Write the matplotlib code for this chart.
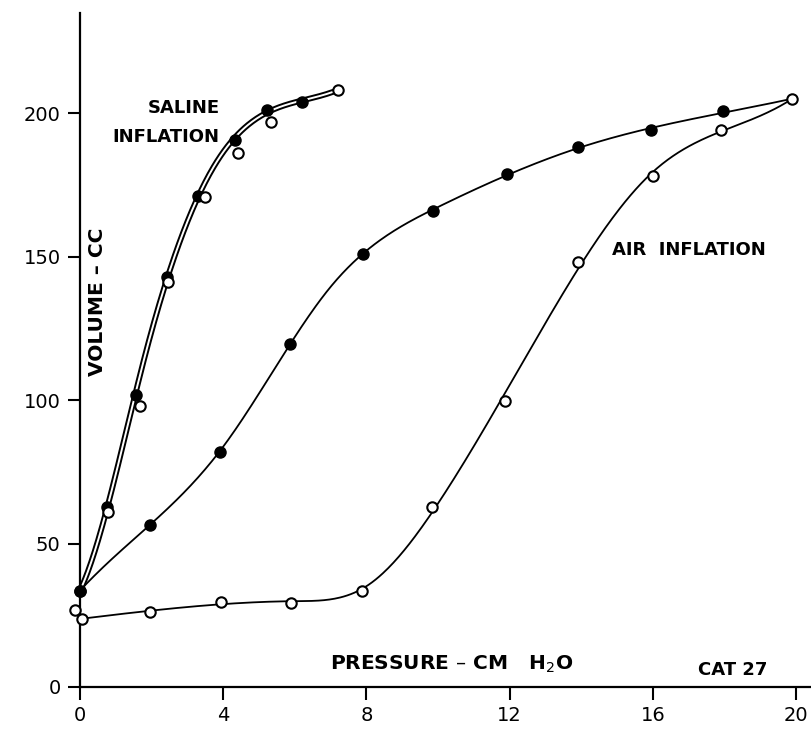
import numpy as np
import matplotlib
matplotlib.use("Agg")
import matplotlib.pyplot as plt
import matplotlib.patheffects as pe

# valores (presion cm H2O, volumen cc)
sal_fill_x = [0.0, 0.75, 1.56, 2.43, 3.3, 4.33, 5.22, 6.2]
sal_fill_y = [33.6, 62.6, 101.7, 143.0, 171.0, 190.6, 201.0, 204.0]
sal_open_x = [0.78, 1.68, 2.46, 3.5, 4.42, 5.33, 7.2]
sal_open_y = [61.0, 98.0, 141.0, 170.6, 186.0, 197.0, 208.0]

air_fill_x = [0.0, 1.96, 3.9, 5.87, 7.9, 9.86, 11.93, 13.9, 15.95, 17.95]
air_fill_y = [33.6, 56.6, 82.0, 119.6, 151.0, 166.0, 178.7, 188.0, 194.0, 200.6]
air_open_x = [-0.15, 0.05, 1.96, 3.93, 5.89, 7.87, 9.83, 11.87, 13.9, 16.0, 17.9, 19.9]
air_open_y = [27.0, 23.8, 26.0, 29.7, 29.4, 33.6, 62.6, 99.6, 148.0, 178.0, 194.0, 205.0]

x_ticks = [0, 4, 8, 12, 16, 20]
y_ticks = [0, 50, 100, 150, 200]


def ajuste(x, y, knots, xs):
    # spline cubico por minimos cuadrados (curva trazada a mano en el original)
    x = np.asarray(x, float)
    y = np.asarray(y, float)

    def base(v):
        cols = [np.ones_like(v), v, v**2, v**3]
        cols += [np.clip(v - k, 0, None)**3 for k in knots]
        return np.column_stack(cols)

    w = np.ones_like(x)
    w[0] = w[-1] = 20.0  # los extremos quedan fijos
    coef = np.linalg.lstsq(base(x) * w[:, None], y * w, rcond=None)[0]
    return base(xs) @ coef


fig = plt.figure(figsize=(8.11, 7.31), dpi=100)
ax = fig.add_axes([80 / 811, 44 / 731, 731 / 811, 674 / 731])

lw = 1.3
# saline: linea doble (llenado / vaciado casi iguales)
cx = sal_fill_x + [sal_open_x[-1]]
cy = sal_fill_y + [sal_open_y[-1]]
xs = np.linspace(cx[0], cx[-1], 300)
ax.plot(xs, ajuste(cx, cy, [1.8, 3.8], xs), color='white', lw=1.4,
        path_effects=[pe.Stroke(linewidth=4.2, foreground='black'), pe.Normal()])

# air: curva de puntos llenos
fx = air_fill_x + [air_open_x[-1]]
fy = air_fill_y + [air_open_y[-1]]
xs = np.linspace(fx[0], fx[-1], 400)
ax.plot(xs, ajuste(fx, fy, [4.0, 7.0, 10.0, 14.0], xs), color='black', lw=lw)

# air: curva de puntos abiertos
xs = np.linspace(air_open_x[1], air_open_x[-1], 400)
ax.plot(xs, ajuste(air_open_x[1:], air_open_y[1:], [6.0, 8.0, 10.0, 13.0, 16.0], xs),
        color='black', lw=lw)

ax.plot(sal_fill_x, sal_fill_y, 'o', ms=8, color='black', clip_on=False, zorder=3)
ax.plot(air_fill_x, air_fill_y, 'o', ms=8, color='black', clip_on=False, zorder=3)
ax.plot(sal_open_x, sal_open_y, 'o', ms=7.5, mfc='white', mec='black', mew=1.5,
        clip_on=False, zorder=4)
ax.plot(air_open_x, air_open_y, 'o', ms=7.5, mfc='white', mec='black', mew=1.5,
        clip_on=False, zorder=4)

ax.set_xlim(0, 731 / 35.8)
ax.set_ylim(0, 674 / 2.87)
ax.spines['top'].set_visible(False)
ax.spines['right'].set_visible(False)
ax.spines['left'].set_linewidth(1.6)
ax.spines['bottom'].set_linewidth(1.6)
ax.set_xticks(x_ticks)
ax.set_yticks(y_ticks)
ax.tick_params(direction='out', length=9, width=1.5, labelsize=14, pad=5)

tf = dict(fontsize=13, fontweight='bold', color='black')
ax.text(2.9, 201.7, 'SALINE', ha='center', va='center', **tf)
ax.text(2.4, 191.6, 'INFLATION', ha='center', va='center', **tf)
ax.text(17.0, 152.3, 'AIR  INFLATION', ha='center', va='center', **tf)
ax.text(17.26, 4.2, 'CAT 27', ha='left', va='baseline', **tf)
tf['fontsize'] = 14.5
ax.text(6.98, 5.9, 'PRESSURE \u2013 CM   H$_2$O', ha='left', va='baseline', **tf)
ax.text(0.0246, 0.571, 'VOLUME \u2013 CC', rotation=90, ha='center', va='center',
        transform=ax.transAxes, **tf)

fig.savefig('out.png', dpi=100)
